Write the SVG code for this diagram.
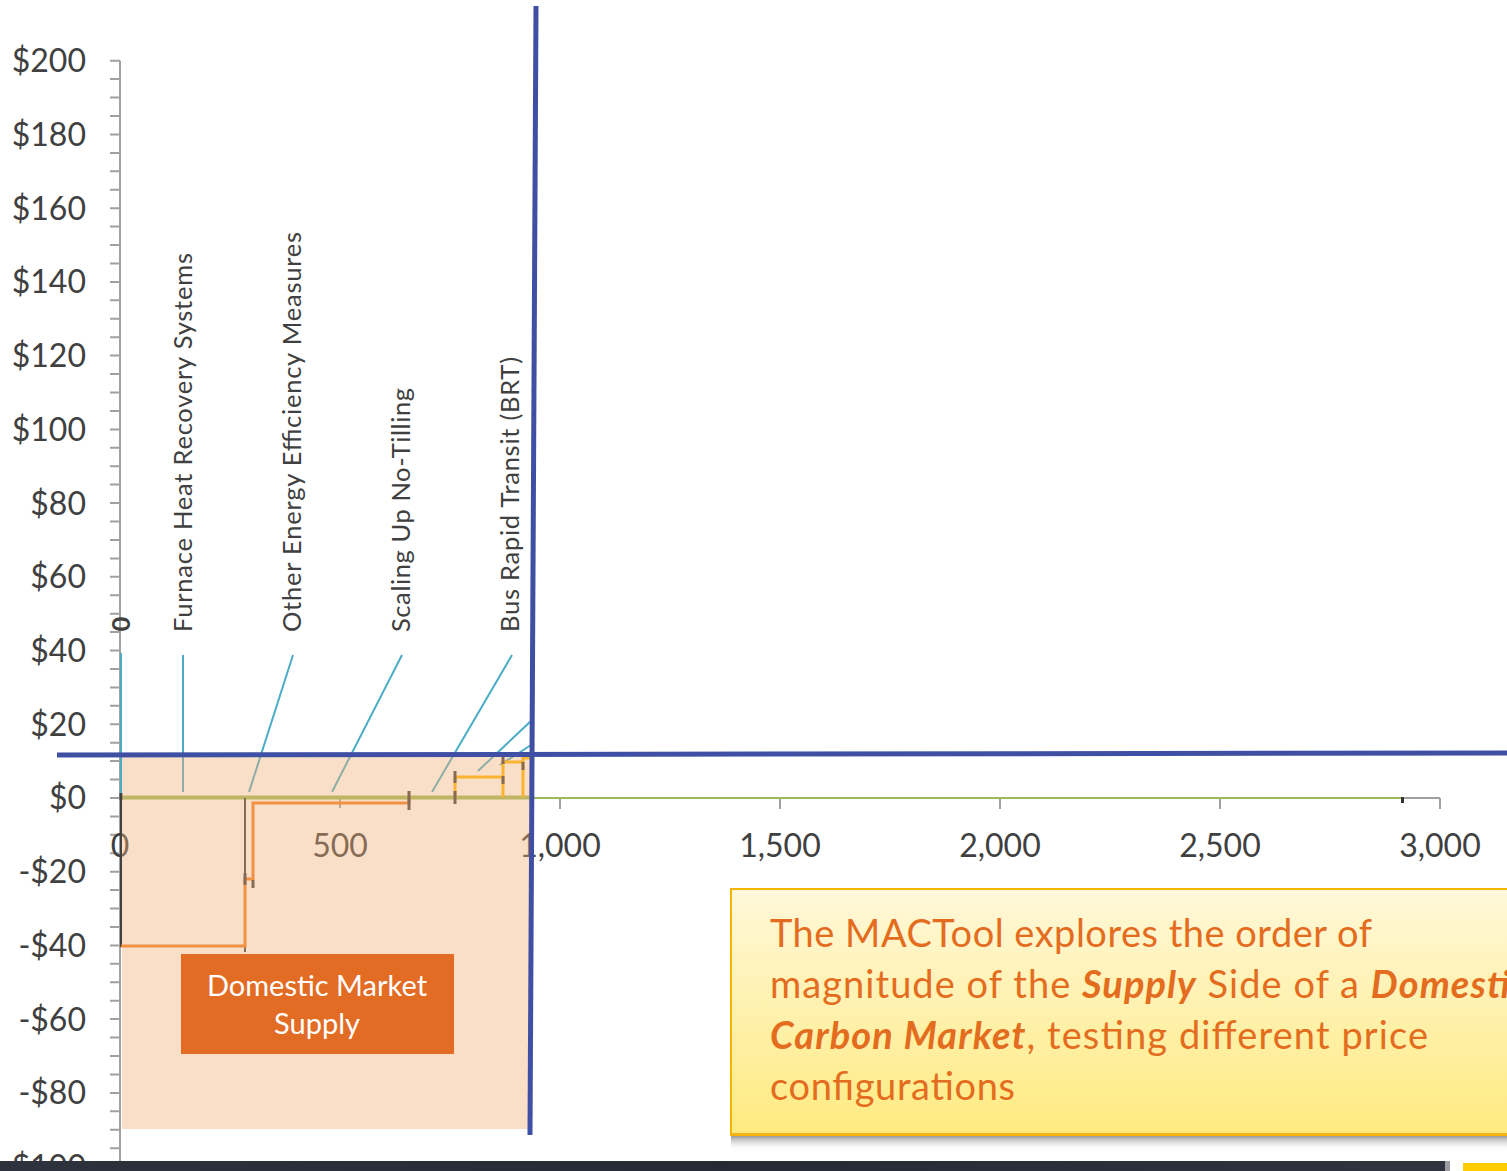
<svg xmlns="http://www.w3.org/2000/svg" width="1507" height="1171" viewBox="0 0 1507 1171">
  <defs>
    <linearGradient id="calloutFill" x1="0" y1="0" x2="0" y2="1">
      <stop offset="0" stop-color="#FFF8DA"/>
      <stop offset="1" stop-color="#FFEA80"/>
    </linearGradient>
    <linearGradient id="calloutShadow" x1="0" y1="0" x2="0" y2="1">
      <stop offset="0" stop-color="#8C8C8C"/>
      <stop offset="1" stop-color="#FFFFFF" stop-opacity="0"/>
    </linearGradient>
    <linearGradient id="band" x1="0" y1="0" x2="1" y2="0">
      <stop offset="0" stop-color="#2E323D"/>
      <stop offset="0.5" stop-color="#262A34"/>
      <stop offset="1" stop-color="#30343F"/>
    </linearGradient>
  </defs>
  <style>
    .axis { stroke: #A0A0A0; stroke-width: 2; fill: none; }
    .tick { stroke: #A0A0A0; stroke-width: 2; fill: none; }
    .ylab { font-family: Lato, "Liberation Sans", sans-serif; font-size: 32px; fill: #404040; text-anchor: end; }
    .xlab { font-family: Lato, "Liberation Sans", sans-serif; font-size: 32px; fill: #404040; text-anchor: middle; }
    .lead { stroke: #4BACC6; stroke-width: 2; fill: none; }
    .mlab { font-family: Lato, "Liberation Sans", sans-serif; font-size: 25.5px; fill: #404040; }
    .step-o { stroke: #F07D22; stroke-width: 3; fill: none; }
    .step-y { stroke: #FFB800; stroke-width: 3; fill: none; }
    .err { stroke: #404040; stroke-width: 3; fill: none; }
    .dark { stroke: #404040; stroke-width: 2; fill: none; }
    .blue { stroke: #3F4FA3; stroke-width: 5; fill: none; }
    .boxlab { font-family: Lato, "Liberation Sans", sans-serif; font-size: 29px; fill: #FFFFFF; text-anchor: middle; }
    .callout { font-family: Lato, "Liberation Sans", sans-serif; font-size: 38px; fill: #E46C1E; }
    .bi { font-weight: bold; font-style: italic; }
  </style>

  <rect x="0" y="0" width="1507" height="1171" fill="#FFFFFF"/>

  <!-- vertical price axis -->
  <g id="y-axis">
    <path class="axis" d="M120 60.7 V1167"/>
    <path class="tick" d="M110 60.7h10M110 79.1h10M110 97.6h10M110 116h10M110 134.4h10M110 152.9h10M110 171.3h10M110 189.7h10M110 208.2h10M110 226.6h10M110 245h10M110 263.5h10M110 281.9h10M110 300.3h10M110 318.8h10M110 337.2h10M110 355.6h10M110 374h10M110 392.5h10M110 410.9h10M110 429.4h10M110 447.8h10M110 466.2h10M110 484.6h10M110 503.1h10M110 521.5h10M110 539.9h10M110 558.4h10M110 576.8h10M110 595.2h10M110 613.7h10M110 632.1h10M110 650.5h10M110 669h10M110 687.4h10M110 705.8h10M110 724.2h10M110 742.7h10M110 761.1h10M110 779.5h10M110 798h10M110 816.4h10M110 834.8h10M110 853.3h10M110 871.7h10M110 890.1h10M110 908.6h10M110 927h10M110 945.4h10M110 963.8h10M110 982.3h10M110 1000.7h10M110 1019.1h10M110 1037.6h10M110 1056h10M110 1074.4h10M110 1092.9h10M110 1111.3h10M110 1129.7h10M110 1148.2h10M110 1166.6h10"/>
    <text class="ylab" x="86" y="72">$200</text>
    <text class="ylab" x="86" y="146">$180</text>
    <text class="ylab" x="86" y="220">$160</text>
    <text class="ylab" x="86" y="293">$140</text>
    <text class="ylab" x="86" y="367">$120</text>
    <text class="ylab" x="86" y="441">$100</text>
    <text class="ylab" x="86" y="515">$80</text>
    <text class="ylab" x="86" y="588">$60</text>
    <text class="ylab" x="86" y="662">$40</text>
    <text class="ylab" x="86" y="736">$20</text>
    <text class="ylab" x="86" y="809">$0</text>
    <text class="ylab" x="86" y="883">-$20</text>
    <text class="ylab" x="86" y="957">-$40</text>
    <text class="ylab" x="86" y="1031">-$60</text>
    <text class="ylab" x="86" y="1104">-$80</text>
    <text class="ylab" x="86" y="1178">-$100</text>
  </g>

  <!-- horizontal abatement axis -->
  <g id="x-axis">
    <path class="axis" d="M120 798 H1440"/>
    <path class="tick" d="M340 798v10M560 798v11M780 798v11M1000 798v11M1220 798v11M1440 798v11"/>
    <text class="xlab" x="120" y="857">0</text>
    <text class="xlab" x="340" y="857">500</text>
    <text class="xlab" x="560" y="857">1,000</text>
    <text class="xlab" x="780" y="857">1,500</text>
    <text class="xlab" x="1000" y="857">2,000</text>
    <text class="xlab" x="1220" y="857">2,500</text>
    <text class="xlab" x="1440" y="857">3,000</text>
  </g>

  <!-- zero-cost baseline -->
  <g id="baseline">
    <path d="M120 797.5 H531" stroke="#9BBB59" stroke-width="4" fill="none"/>
    <path d="M531 798 H1404" stroke="#9BBB59" stroke-width="2" fill="none"/>
    <path d="M1402.5 797 v6" stroke="#333333" stroke-width="3"/>
  </g>

  <!-- measure leader lines -->
  <g id="connectors">
    <path class="lead" d="M121 653 V793"/>
    <path class="lead" d="M183 655 V792"/>
    <path class="lead" d="M293 655 L249 792"/>
    <path class="lead" d="M402 655 L332 792"/>
    <path class="lead" d="M512 655 L432 792"/>
    <path class="lead" d="M531 721 L478 771"/>
    <path class="lead" d="M531 745 L500 765"/>
  </g>

  <!-- marginal abatement cost steps -->
  <g id="mac-curve">
    <path class="dark" d="M121 796 V947"/>
    <path class="dark" d="M245 798 V952"/>
    <path class="step-o" d="M121 946 H245 V879 H253 V803 H409 V798"/>
    <path class="step-y" d="M455 798 V777 H503 V762 H523 V758 H530"/>
    <path class="step-y" d="M503 777 V797 M523 762 V797"/>
    <path class="err" d="M245 873v12M253 880v8M409 791v19M455 771v12M455 791v13M503 757v7M503 776v8M523 762v8M121 793v7"/>
  </g>

  <!-- measure labels -->
  <g id="measure-labels">
    <text class="mlab" transform="translate(130 624) rotate(-90)" font-weight="bold" font-size="22" text-anchor="middle">0</text>
    <text class="mlab" transform="translate(192 632) rotate(-90)" textLength="379" lengthAdjust="spacing">Furnace Heat Recovery Systems</text>
    <text class="mlab" transform="translate(301 632) rotate(-90)" textLength="400" lengthAdjust="spacing">Other Energy Efficiency Measures</text>
    <text class="mlab" transform="translate(410 632) rotate(-90)" textLength="244" lengthAdjust="spacing">Scaling Up No-Tilling</text>
    <text class="mlab" transform="translate(519 632) rotate(-90)" textLength="275" lengthAdjust="spacing">Bus Rapid Transit (BRT)</text>
  </g>

  <!-- domestic supply region -->
  <g id="supply-region">
    <rect x="122" y="757" width="408" height="372" fill="#F3AF76" fill-opacity="0.4"/>
  </g>

  <g id="domestic-market-supply">
    <rect x="181" y="954" width="273" height="100" fill="#E36C25"/>
    <text class="boxlab" x="317" y="996">Domestic Market</text>
    <text class="boxlab" x="317" y="1034">Supply</text>
  </g>

  <!-- price and quantity cut lines -->
  <g id="cut-lines">
    <path class="blue" d="M536 6 L530 1135"/>
    <path class="blue" d="M57 755 L1507 753"/>
  </g>

  <!-- explanatory callout -->
  <g id="callout">
    <rect x="731" y="1135" width="790" height="16" fill="url(#calloutShadow)"/>
    <rect x="731" y="889" width="790" height="246" fill="url(#calloutFill)" stroke="#F4B400" stroke-width="2"/>
    <path d="M731 1134 H1507" stroke="#F6B21C" stroke-width="2"/>
    <text class="callout" x="770" y="947" textLength="602" lengthAdjust="spacing">The MACTool explores the order of</text>
    <text class="callout" x="770" y="998" textLength="758" lengthAdjust="spacing">magnitude of the <tspan class="bi">Supply</tspan> Side of a <tspan class="bi">Domestic</tspan></text>
    <text class="callout" x="770" y="1049" textLength="658" lengthAdjust="spacing"><tspan class="bi">Carbon Market</tspan>, testing different price</text>
    <text class="callout" x="770" y="1100" textLength="245" lengthAdjust="spacing">configurations</text>
  </g>

  <!-- bottom strip -->
  <g id="bottom-strip">
    <rect x="0" y="1161" width="1445" height="10" fill="url(#band)"/>
    <rect x="1445" y="1161" width="5" height="10" fill="#9A9CA2"/>
    <rect x="1463" y="1163" width="44" height="8" fill="#FFCC00"/>
  </g>
</svg>
